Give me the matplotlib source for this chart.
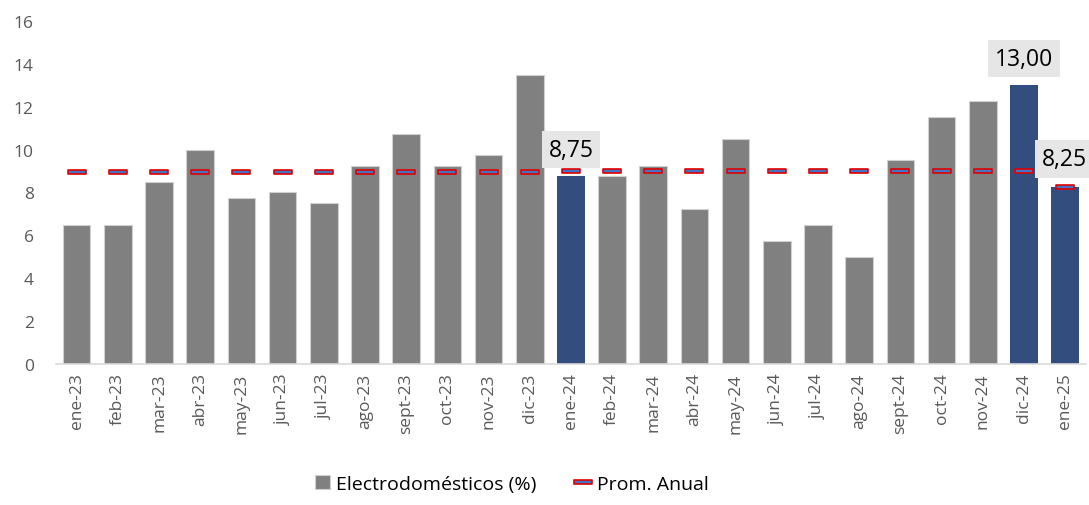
import matplotlib
matplotlib.use("Agg")
import matplotlib.pyplot as plt
from matplotlib.path import Path

# --- data ---
months = ['ene-23', 'feb-23', 'mar-23', 'abr-23', 'may-23', 'jun-23', 'jul-23',
          'ago-23', 'sept-23', 'oct-23', 'nov-23', 'dic-23',
          'ene-24', 'feb-24', 'mar-24', 'abr-24', 'may-24', 'jun-24', 'jul-24',
          'ago-24', 'sept-24', 'oct-24', 'nov-24', 'dic-24', 'ene-25']
electro = [6.5, 6.5, 8.5, 10.0, 7.75, 8.0, 7.5, 9.25, 10.75, 9.25, 9.75, 13.5,
           8.75, 8.75, 9.25, 7.25, 10.5, 5.75, 6.5, 5.0, 9.5, 11.5, 12.25, 13.0, 8.25]
prom_anual = [8.94] * 12 + [9.0] * 12 + [8.25]
highlight = ['ene-24', 'dic-24', 'ene-25']
labels = {'ene-24': ('8,75', 10.0), 'dic-24': ('13,00', 14.25), 'ene-25': ('8,25', 9.55)}

GRAY = '#808080'
BLUE = '#334D7F'
TXT = '#595959'

plt.rcParams['font.family'] = ['Open Sans', 'DejaVu Sans']

fig = plt.figure(figsize=(10.89, 5.06), dpi=100)
ax = fig.add_axes([0.0515, 0.2787, 0.9455, 0.6778])

x = list(range(len(months)))
colors = [BLUE if m in highlight else GRAY for m in months]
edges = ['none' if m in highlight else '#D0D0D0' for m in months]
bars = ax.bar(x, electro, width=0.67, color=colors, edgecolor=edges, linewidth=0.8,
              label='Electrodomésticos (%)', zorder=2)

# flat dash marker for the annual average
dash = Path([(-1, -0.22), (1, -0.22), (1, 0.22), (-1, 0.22), (-1, -0.22)],
            [Path.MOVETO, Path.LINETO, Path.LINETO, Path.LINETO, Path.CLOSEPOLY])
line, = ax.plot(x, prom_anual, linestyle='none', marker=dash, markersize=12.5,
                markerfacecolor='#4472C4', markeredgecolor='#E00000', markeredgewidth=1.2,
                label='Prom. Anual', zorder=3)

for m, (txt, ypos) in labels.items():
    i = months.index(m)
    xpos = i - 0.02 if m == 'ene-25' else i
    ax.text(xpos, ypos, txt, ha='center', va='center', fontsize=16.5, color='black',
            bbox=dict(boxstyle='square,pad=0.3', facecolor='#E6E6E6', edgecolor='none'),
            zorder=4, clip_on=False)

ax.set_xlim(-0.5, len(months) - 0.5)
ax.set_ylim(0, 16)
ax.set_yticks(range(0, 17, 2))
ax.set_xticks(x)
ax.set_xticklabels(months, rotation=90)
ax.tick_params(axis='both', length=0, labelsize=12.5, colors=TXT)
ax.tick_params(axis='y', pad=16)
ax.tick_params(axis='x', pad=6)
for s in ['top', 'right', 'left']:
    ax.spines[s].set_visible(False)
ax.spines['bottom'].set_color('#D9D9D9')
ax.spines['bottom'].set_linewidth(1.2)

leg = fig.legend([bars, line], ['Electrodomésticos (%)', 'Prom. Anual'],
                 loc='lower center', bbox_to_anchor=(0.47, -0.01), ncol=2, frameon=False,
                 fontsize=14, handlelength=0.8, handletextpad=0.3, columnspacing=2.0)
for t in leg.get_texts():
    t.set_color('black')

fig.savefig('out.png', dpi=100)
